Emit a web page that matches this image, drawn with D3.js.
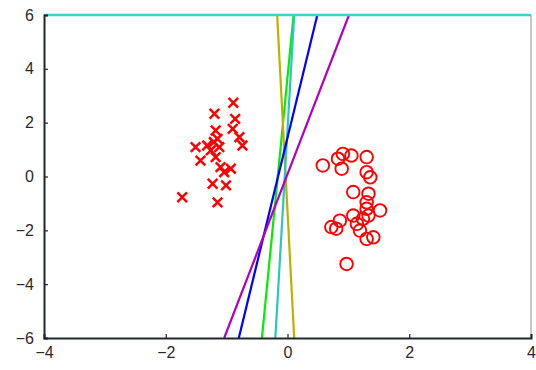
<!DOCTYPE html>
<html>
<head>
<meta charset="utf-8">
<script src="https://cdn.jsdelivr.net/npm/d3@7"></script>
<style>
  body { margin: 0; background: #fff; }
  svg { display: block; }
</style>
</head>
<body>
<script>
var width = 536, height = 370;

var xTicks = [-4, -2, 0, 2, 4];
var yTicks = [-6, -4, -2, 0, 2, 4, 6];

// class 1 (crosses)
var crossX = [-0.89, -1.20, -0.86, -1.18, -0.90, -0.79, -0.74, -1.51, -1.21, -1.12, -1.26,
              -1.18, -1.43, -1.10, -0.93, -1.04, -1.23, -1.01, -1.73, -1.15, -1.15, -1.32];
var crossY = [2.74, 2.33, 2.14, 1.71, 1.77, 1.46, 1.15, 1.09, 1.28, 1.09, 0.97,
              0.72, 0.59, 0.35, 0.29, 0.16, -0.27, -0.33, -0.77, -0.96, 1.40, 1.15];

// class 2 (circles)
var circX = [0.58, 0.83, 0.91, 1.05, 0.89, 1.30, 1.30, 1.36, 1.08, 1.33, 1.30, 1.30,
             1.52, 1.08, 0.86, 0.72, 1.14, 1.24, 1.19, 1.30, 1.41, 0.97, 0.80, 1.33];
var circY = [0.41, 0.66, 0.84, 0.78, 0.29, 0.72, 0.16, -0.03, -0.58, -0.64, -0.96, -1.20,
             -1.26, -1.45, -1.64, -1.88, -1.76, -1.57, -2.01, -2.32, -2.26, -3.25, -1.94, -1.45];

// separating lines: x at y = -6 and x at y = 6
var lineNames = ["green", "olive", "cyan", "blue", "magenta"];
var lineColors = ["#00ee00", "#bfb000", "#2cc4c4", "#0000ff", "#b000c0"];
var lineBottomX = [-0.42, 0.11, -0.20, -0.80, -1.04];
var lineTopX = [0.10, -0.17, 0.11, 0.49, 1.01];

var x = d3.scaleLinear().domain([-4, 4]).range([44, 531]);
var y = d3.scaleLinear().domain([-6, 6]).range([338, 15]);

var svg = d3.select("body").append("svg")
  .attr("width", width)
  .attr("height", height);

svg.append("defs").append("clipPath").attr("id", "clip")
  .append("rect")
  .attr("x", 44).attr("y", 15)
  .attr("width", 487).attr("height", 323);

var plot = svg.append("g").attr("clip-path", "url(#clip)");

// lines
lineNames.forEach(function(name, i) {
  plot.append("line")
    .attr("x1", x(lineBottomX[i])).attr("y1", y(-6))
    .attr("x2", x(lineTopX[i])).attr("y2", y(6))
    .attr("stroke", lineColors[i])
    .attr("stroke-width", 2.2);
});

// crosses
var crosses = crossX.map(function(v, i) { return [v, crossY[i]]; });
var s = 4.8;
plot.selectAll("path.cross")
  .data(crosses)
  .enter()
  .append("path")
  .attr("class", "cross")
  .attr("d", function(d) {
    var cx = x(d[0]), cy = y(d[1]);
    return "M" + (cx - s) + "," + (cy - s) + "L" + (cx + s) + "," + (cy + s) +
           "M" + (cx - s) + "," + (cy + s) + "L" + (cx + s) + "," + (cy - s);
  })
  .attr("stroke", "#ff0000")
  .attr("stroke-width", 2.5)
  .attr("fill", "none");

// circles
var circs = circX.map(function(v, i) { return [v, circY[i]]; });
plot.selectAll("circle")
  .data(circs)
  .enter()
  .append("circle")
  .attr("cx", function(d) { return x(d[0]); })
  .attr("cy", function(d) { return y(d[1]); })
  .attr("r", 6.3)
  .attr("fill", "none")
  .attr("stroke", "#ff0000")
  .attr("stroke-width", 1.9);

// frame
svg.append("line")
  .attr("x1", 531).attr("x2", 531).attr("y1", 15).attr("y2", 338)
  .attr("stroke", "#c8c8c8").attr("stroke-width", 2);
svg.append("line")
  .attr("x1", 44).attr("x2", 531).attr("y1", 15).attr("y2", 15)
  .attr("stroke", "#3fcfcf").attr("stroke-width", 2.5);

var xAxis = svg.append("g")
  .attr("transform", "translate(0,338)")
  .call(d3.axisBottom(x).tickValues(xTicks).tickSize(-4).tickPadding(9)
    .tickFormat(function(d) { return d < 0 ? "\u2212" + Math.abs(d) : d; }));
var yAxis = svg.append("g")
  .attr("transform", "translate(44,0)")
  .call(d3.axisLeft(y).tickValues(yTicks).tickSize(-4).tickPadding(10)
    .tickFormat(function(d) { return d < 0 ? "\u2212" + Math.abs(d) : d; }));

[xAxis, yAxis].forEach(function(g) {
  g.select(".domain").attr("stroke", "#1e2a2a").attr("stroke-width", 2);
  g.selectAll(".tick line").attr("stroke", "#222").attr("stroke-width", 1.2);
  g.selectAll(".tick text")
    .attr("fill", "#2a2a2a")
    .style("font-family", "Liberation Sans, Arial, sans-serif")
    .style("font-size", "16px");
});
</script>
</body>
</html>
